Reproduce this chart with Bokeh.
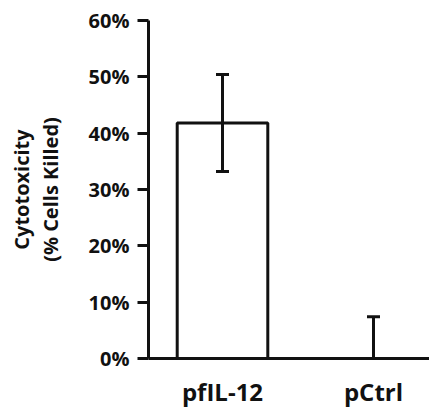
from bokeh.plotting import figure
from bokeh.models import (ColumnDataSource, Range1d, Whisker, TeeHead,
                          NumeralTickFormatter, FixedTicker)
from bokeh.embed import file_html
from bokeh.resources import INLINE

# ---- data ----
categories = ["pfIL-12", "pCtrl"]
values = [0.418, 0.0]          # mean cytotoxicity (fraction)
errors = [0.086, 0.074]        # error bar half-length
y_ticks = [0.0, 0.1, 0.2, 0.3, 0.4, 0.5, 0.6]
title_lines = ["Cytotoxicity", "(% Cells Killed)"]

xpos = list(range(1, len(categories) + 1))
lower = [max(0.0, v - e) for v, e in zip(values, errors)]
upper = [v + e for v, e in zip(values, errors)]

src = ColumnDataSource(dict(x=xpos, top=values, lower=lower, upper=upper))

FONT = "Open Sans"
INK = "#111111"

p = figure(width=429, height=410, output_backend="svg", toolbar_location=None,
           x_range=Range1d(0.5099, 2.3709), y_range=Range1d(0, 0.6),
           min_border_left=148, min_border_top=20, min_border_bottom=50,
           min_border_right=0)
p.outline_line_color = None
p.xgrid.visible = False
p.ygrid.visible = False
p.background_fill_color = "white"

p.vbar(x="x", top="top", width=0.6, bottom=0, source=src,
       fill_color="white", line_color=INK, line_width=3)

w = Whisker(base="x", lower="lower", upper="upper", source=src,
            line_color=INK, line_width=3, level="overlay",
            upper_head=TeeHead(size=13, line_color=INK, line_width=3),
            lower_head=TeeHead(size=13, line_color=INK, line_width=3))
p.add_layout(w)

# y axis
ya = p.yaxis[0]
ya.ticker = FixedTicker(ticks=y_ticks)
ya.formatter = NumeralTickFormatter(format="0%")
ya.axis_line_width = 3
ya.axis_line_color = INK
ya.major_tick_line_width = 3
ya.major_tick_line_color = INK
ya.major_tick_out = 11
ya.major_tick_in = 0
ya.minor_tick_line_color = None
ya.major_label_text_font = FONT
ya.major_label_text_font_style = "bold"
ya.major_label_text_font_size = "20px"
ya.major_label_text_color = INK
ya.major_label_standoff = 8
ya.axis_label = "\n".join(title_lines)
ya.axis_label_text_font = FONT
ya.axis_label_text_font_style = "bold"
ya.axis_label_text_font_size = "20px"
ya.axis_label_text_color = INK
ya.axis_label_text_line_height = 1.07
ya.axis_label_standoff = 22

# x axis
xa = p.xaxis[0]
xa.ticker = FixedTicker(ticks=xpos)
xa.major_label_overrides = {x: c for x, c in zip(xpos, categories)}
xa.axis_line_width = 3
xa.axis_line_color = INK
xa.major_tick_line_color = None
xa.minor_tick_line_color = None
xa.major_tick_out = 0
xa.major_tick_in = 0
xa.major_label_text_font = FONT
xa.major_label_text_font_style = "bold"
xa.major_label_text_font_size = "24px"
xa.major_label_text_color = INK
xa.major_label_standoff = 16

open("out.html", "w").write(file_html(p, INLINE))
